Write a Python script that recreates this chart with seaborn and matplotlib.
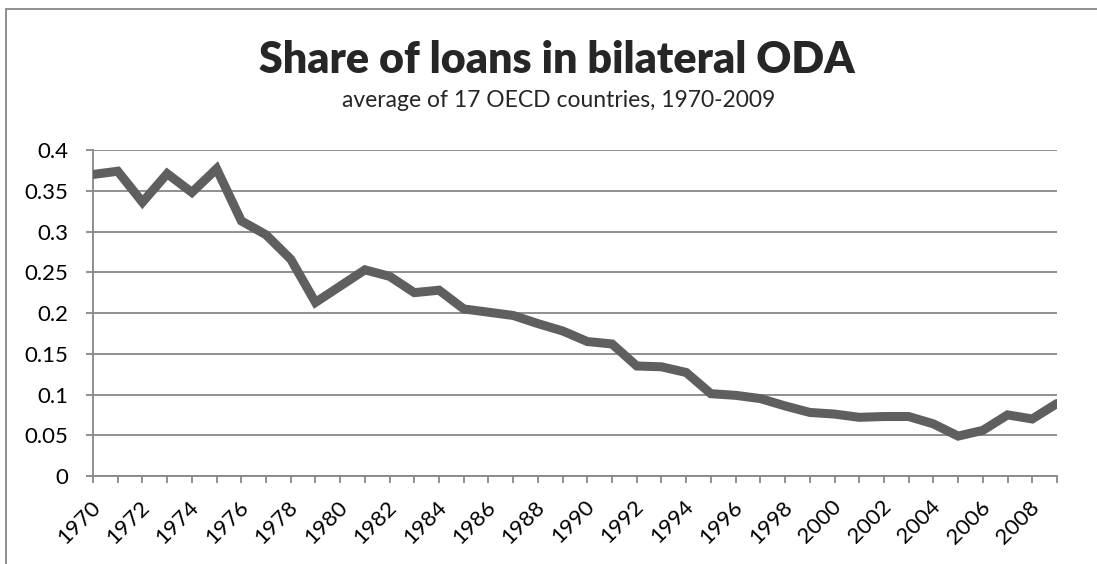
import pandas as pd
import seaborn as sns
import matplotlib.pyplot as plt
from matplotlib.patches import Rectangle
from matplotlib.transforms import ScaledTranslation

# share of loans
years = list(range(1970, 2010))
loan_share = [0.370, 0.374, 0.336, 0.371, 0.348, 0.377, 0.313, 0.296, 0.266, 0.213,
              0.233, 0.253, 0.245, 0.225, 0.228, 0.205, 0.201, 0.197, 0.187, 0.178,
              0.165, 0.162, 0.135, 0.134, 0.127, 0.101, 0.099, 0.095, 0.086, 0.078,
              0.076, 0.072, 0.073, 0.073, 0.064, 0.049, 0.056, 0.075, 0.070, 0.089]
y_ticks = [0, 0.05, 0.1, 0.15, 0.2, 0.25, 0.3, 0.35, 0.4]
y_labels = ['0', '0.05', '0.1', '0.15', '0.2', '0.25', '0.3', '0.35', '0.4']

df = pd.DataFrame({'year': years, 'share': loan_share})

sns.set_theme(style="white")
plt.rcParams['font.family'] = ['Lato', 'DejaVu Sans']

fig = plt.figure(figsize=(10.97, 5.64), dpi=100)
ax = fig.add_axes([0.0848, 0.156, 0.8787, 0.578])

grey = '#878787'
sns.lineplot(data=df, x='year', y='share', ax=ax, color='#5f5f5f', linewidth=6.5,
             solid_joinstyle='miter', zorder=3)

ax.set_xlim(1970, 2009)
ax.set_ylim(0, 0.4)
ax.set_yticks(y_ticks)
ax.set_yticklabels(y_labels, fontsize=16)
ax.set_xticks(years)
ax.set_xticklabels([str(y) if y % 2 == 0 else '' for y in years],
                   rotation=45, ha='right', va='center', rotation_mode='anchor', fontsize=16)
ax.set_xlabel('')
ax.set_ylabel('')

ax.yaxis.grid(True, color=grey, linewidth=1.3)
ax.set_axisbelow(True)
for side in ['top', 'right']:
    ax.spines[side].set_visible(False)
for side in ['left', 'bottom']:
    ax.spines[side].set_color(grey)
    ax.spines[side].set_linewidth(1.3)
ax.tick_params(axis='both', which='major', direction='out', length=5, width=1.3,
               color=grey, labelcolor='black', left=True, bottom=True)
ax.tick_params(axis='y', pad=13)
ax.tick_params(axis='x', pad=15)

# nudge the rotated year labels a bit to the right, like the original
shift = ScaledTranslation(4 / 100, 0, fig.dpi_scale_trans)
for lbl in ax.get_xticklabels():
    lbl.set_transform(lbl.get_transform() + shift)

fig.text(0.508, 0.893, 'Share of loans in bilateral ODA', ha='center', va='center',
         fontsize=31, fontweight='heavy')
fig.text(0.509, 0.822, 'average of 17 OECD countries, 1970-2009', ha='center', va='center',
         fontsize=16.5)

# chart frame
fig.patches.append(Rectangle((6 / 1097, -0.1), 1.2, 1.1 - 9 / 564, transform=fig.transFigure,
                             fill=False, edgecolor=grey, linewidth=1.3))

fig.savefig('out.png', dpi=100)
